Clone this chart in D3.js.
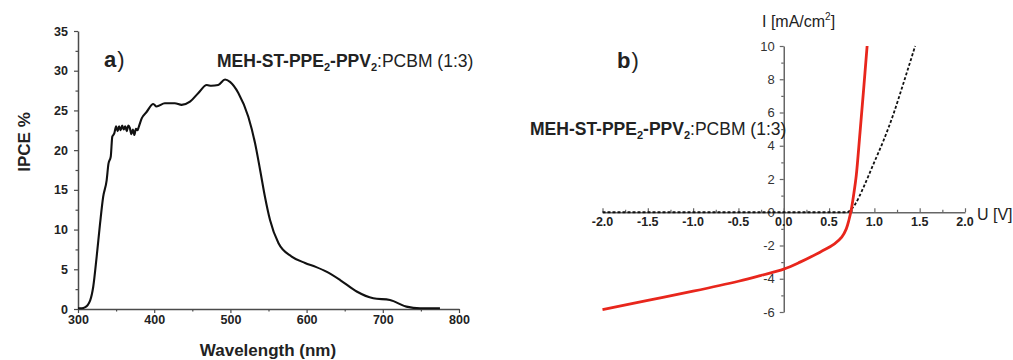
<!DOCTYPE html>
<html>
<head>
<meta charset="utf-8">
<script src="https://cdn.jsdelivr.net/npm/d3@7"></script>
<style>
  body { margin: 0; background: #fff; }
  svg { font-family: "Liberation Sans", Arial, sans-serif; }
</style>
</head>
<body>
<div id="chart"></div>
<script>
// panel a) IPCE spectrum
const wavelength = [300, 305, 309, 316, 320, 324.5, 329, 333, 337.6, 340, 343, 345, 347.6, 350, 352, 354, 356, 358, 360, 362, 364, 366, 368, 370, 372, 374, 376, 378, 380, 383.6, 390, 398.8, 403, 414, 427, 436, 447, 458, 469, 475, 484, 493, 499.5, 510.4, 523.5, 532.3, 539, 545.4, 552, 563, 580.4, 598, 612, 626, 644, 665.7, 687.5, 709.4, 731, 749, 775];
const ipce = [0.1, 0.1, 0.2, 1.1, 2.8, 6.6, 10.8, 14.1, 16.2, 18.3, 19.2, 21.7, 22.1, 23.0, 22.4, 23.0, 22.5, 23.1, 22.6, 23.0, 22.4, 23.1, 22.8, 22.0, 22.6, 21.9, 22.7, 22.5, 23.0, 24.0, 24.8, 25.8, 25.5, 25.9, 25.9, 25.7, 26.1, 27.2, 28.2, 28.1, 28.2, 28.9, 28.6, 27.2, 24.2, 20.9, 17.5, 14.1, 11.2, 8.3, 6.6, 5.8, 5.3, 4.7, 3.65, 2.2, 1.35, 1.13, 0.3, 0.1, 0.1];
const xTicksA = [300, 400, 500, 600, 700, 800];
const yTicksA = [0, 5, 10, 15, 20, 25, 30, 35];

// panel b) I-V curves
const voltageLight = [-2.0, -1.5, -1.0, -0.5, -0.25, 0, 0.18, 0.4, 0.56, 0.64, 0.69, 0.72, 0.745, 0.77, 0.80, 0.84, 0.88, 0.92];
const currentLight = [-5.85, -5.3, -4.75, -4.15, -3.8, -3.42, -3.0, -2.4, -1.9, -1.5, -1.0, -0.45, 0.15, 1.0, 2.2, 4.7, 7.3, 10];
const voltageDark = [-2.0, -1.5, -1.0, -0.5, 0, 0.5, 0.7, 0.73, 0.79, 0.88, 0.99, 1.1, 1.21, 1.32, 1.45];
const currentDark = [0, 0, 0, 0, 0, 0, 0, 0.1, 0.5, 1.5, 2.9, 4.3, 5.9, 7.75, 10];
const xTicksB = [-2.0, -1.5, -1.0, -0.5, 0.0, 0.5, 1.0, 1.5, 2.0];
const yTicksB = [-6, -4, -2, 0, 2, 4, 6, 8, 10];

const svg = d3.select("#chart").append("svg")
  .attr("width", 1013).attr("height", 360);

const axisColor = "#4a4a4a";
const textColor = "#222";

// ---------- panel a ----------
const xA = d3.scaleLinear().domain([300, 800]).range([78, 459]);
const yA = d3.scaleLinear().domain([0, 35]).range([309, 31]);

const gxA = svg.append("g")
  .attr("transform", "translate(0," + yA(0) + ")")
  .call(d3.axisBottom(xA).tickValues(d3.range(300, 801, 50)).tickSize(4).tickSizeOuter(0)
    .tickFormat(d => xTicksA.includes(d) ? d : ""));
const gyA = svg.append("g")
  .attr("transform", "translate(" + xA(300) + ",0)")
  .call(d3.axisLeft(yA).tickValues(d3.range(0, 35.1, 2.5)).tickSize(4).tickSizeOuter(0).tickPadding(6)
    .tickFormat(d => yTicksA.includes(d) ? d : ""));

[gxA, gyA].forEach(g => {
  g.select(".domain").attr("stroke", axisColor).attr("stroke-width", 1.5);
  g.selectAll(".tick line").attr("stroke", axisColor).attr("stroke-width", 1.2);
  g.selectAll(".tick text").attr("fill", textColor).attr("font-size", 12.5)
    .attr("font-weight", "bold").attr("font-family", "Liberation Sans, Arial, sans-serif");
});
gxA.selectAll(".tick text").attr("dy", "0.62em");
// minor ticks shorter
gxA.selectAll(".tick").filter(d => !xTicksA.includes(d)).select("line").attr("y2", 2.5);
gyA.selectAll(".tick").filter(d => !yTicksA.includes(d)).select("line").attr("x2", -2.5);

svg.append("path")
  .datum(wavelength.map((w, i) => [w, ipce[i]]))
  .attr("fill", "none").attr("stroke", "#111").attr("stroke-width", 2.1)
  .attr("d", d3.line().x(d => xA(d[0])).y(d => yA(d[1])).curve(d3.curveMonotoneX));

svg.append("text").attr("transform", "translate(30,142) rotate(-90)")
  .attr("text-anchor", "middle").attr("font-size", 17).attr("font-weight", "bold")
  .attr("fill", textColor).text("IPCE %");
svg.append("text").attr("x", 268).attr("y", 356)
  .attr("text-anchor", "middle").attr("font-size", 17).attr("font-weight", "bold")
  .attr("fill", textColor).text("Wavelength (nm)");

function panelLabel(x, y, letter) {
  const t = svg.append("text").attr("x", x).attr("y", y).attr("font-size", 22).attr("fill", textColor);
  t.append("tspan").attr("font-weight", "bold").text(letter);
  t.append("tspan").attr("dx", 1).text(")");
}
panelLabel(104, 67, "a");

function sampleLabel(x, y) {
  const t = svg.append("text").attr("x", x).attr("y", y).attr("font-size", 17.5).attr("fill", textColor);
  t.append("tspan").attr("font-weight", "bold").text("MEH-ST-PPE");
  t.append("tspan").attr("font-weight", "bold").attr("font-size", 11).attr("dy", 4).text("2");
  t.append("tspan").attr("font-weight", "bold").attr("dy", -4).text("-PPV");
  t.append("tspan").attr("font-weight", "bold").attr("font-size", 11).attr("dy", 4).text("2");
  t.append("tspan").attr("dy", -4).text(":PCBM (1:3)");
}
sampleLabel(217, 67);

// ---------- panel b ----------
const xB = d3.scaleLinear().domain([-2, 2]).range([602.5, 965]);
const yB = d3.scaleLinear().domain([-6, 10]).range([312, 46]);

const gxB = svg.append("g")
  .attr("transform", "translate(0," + yB(0) + ")")
  .call(d3.axisTop(xB).tickValues(d3.range(-2, 2.01, 0.25)).tickSize(4).tickSizeOuter(0)
    .tickFormat(""));
const gyB = svg.append("g")
  .attr("transform", "translate(" + xB(0) + ",0)")
  .call(d3.axisLeft(yB).tickValues(d3.range(-6, 10.1, 1)).tickSize(4).tickSizeOuter(0).tickPadding(5)
    .tickFormat(d => yTicksB.includes(d) ? d : ""));

[gxB, gyB].forEach(g => {
  g.select(".domain").attr("stroke", "#666").attr("stroke-width", 1.5);
  g.selectAll(".tick line").attr("stroke", "#666").attr("stroke-width", 1.2);
});
gxB.selectAll(".tick").filter(d => Math.abs(d * 2 - Math.round(d * 2)) > 1e-6).select("line").attr("y2", -2.5);
gyB.selectAll(".tick").filter(d => !yTicksB.includes(d)).select("line").attr("x2", -2.5);
gyB.selectAll(".tick text").attr("fill", "#333").attr("font-size", 13)
  .attr("font-family", "Liberation Sans, Arial, sans-serif");

// x tick labels below the axis, bold
svg.append("g").selectAll("text").data(xTicksB).enter().append("text")
  .attr("x", d => xB(d)).attr("y", yB(0) + 14)
  .attr("text-anchor", "middle").attr("font-size", 12.5).attr("font-weight", "bold")
  .attr("fill", textColor).text(d => d.toFixed(1));

svg.append("path")
  .datum(voltageDark.map((v, i) => [v, currentDark[i]]))
  .attr("fill", "none").attr("stroke", "#111").attr("stroke-width", 1.8)
  .attr("stroke-dasharray", "3,2")
  .attr("d", d3.line().x(d => xB(d[0])).y(d => yB(d[1])).curve(d3.curveMonotoneX));

svg.append("path")
  .datum(voltageLight.map((v, i) => [v, currentLight[i]]))
  .attr("fill", "none").attr("stroke", "#e8261c").attr("stroke-width", 2.8)
  .attr("d", d3.line().x(d => xB(d[0])).y(d => yB(d[1])).curve(d3.curveCatmullRom.alpha(0.5)));

const iLab = svg.append("text").attr("x", 762).attr("y", 27).attr("font-size", 16).attr("fill", textColor);
iLab.append("tspan").text("I [mA/cm");
iLab.append("tspan").attr("font-size", 10).attr("dy", -7).text("2");
iLab.append("tspan").attr("dy", 7).text("]");
svg.append("text").attr("x", 977).attr("y", 220).attr("font-size", 16).attr("fill", textColor).text("U [V]");

panelLabel(617, 68, "b");
sampleLabel(530, 135);
</script>
</body>
</html>
